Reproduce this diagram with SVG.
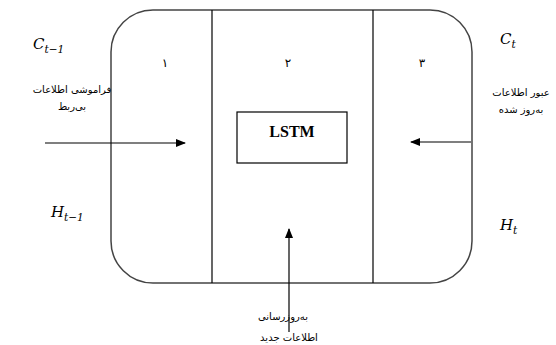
<svg xmlns="http://www.w3.org/2000/svg" width="556" height="345" viewBox="0 0 556 345">
<style>
.ln{stroke:#000;stroke-width:1.2;fill:none}
.fa{font-family:"DejaVu Sans",sans-serif;font-size:10px;fill:#000;text-anchor:middle}
.mt{font-family:"DejaVu Serif","Liberation Serif",serif;font-style:italic;font-size:15px;fill:#000}
.sub{font-size:10.5px}
.num{font-family:"DejaVu Sans",sans-serif;font-size:12px;fill:#000;text-anchor:middle}
</style>
<defs>
<marker id="ah" markerWidth="10" markerHeight="8" refX="9" refY="4" orient="auto" markerUnits="userSpaceOnUse">
<path d="M0,0 L10,4 L0,8 Z" fill="#000"/>
</marker>
</defs>
<rect width="556" height="345" fill="#fff"/>
<g id="cell">
<rect x="111" y="10" width="361" height="273" rx="42" ry="42" fill="none" stroke="#444" stroke-width="1.5"/>
<line class="ln" x1="212" y1="10" x2="212" y2="283"/>
<line class="ln" x1="373" y1="10" x2="373" y2="283"/>
<text class="num" x="165" y="67">۱</text>
<text class="num" x="288" y="67">۲</text>
<text class="num" x="422" y="67">۳</text>
</g>
<g id="lstm">
<rect x="237" y="112" width="110" height="51" fill="none" stroke="#000" stroke-width="1.2"/>
<text x="292" y="137" font-family="Liberation Serif,serif" font-weight="bold" font-size="16" text-anchor="middle">LSTM</text>
</g>
<g id="labels">
<text class="mt" x="33" y="49">C<tspan class="sub" dy="4">t−1</tspan></text>
<text class="mt" x="500" y="44">C<tspan class="sub" dy="4">t</tspan></text>
<text class="mt" x="51" y="217">H<tspan class="sub" dy="4">t−1</tspan></text>
<text class="mt" x="500" y="230">H<tspan class="sub" dy="4">t</tspan></text>
<text class="fa" x="72" y="93">فراموشی اطلاعات</text>
<text class="fa" x="72" y="110">بی‌ربط</text>
<text class="fa" x="521" y="96">عبور اطلاعات</text>
<text class="fa" x="521" y="113">به‌روز شده</text>
<text class="fa" x="283" y="320">به‌روزرسانی</text>
<text class="fa" x="289" y="341">اطلاعات جدید</text>
</g>
<g id="connectors">
<line class="ln" x1="45" y1="143" x2="185" y2="143" marker-end="url(#ah)" stroke="#333"/>
<line class="ln" x1="471" y1="142" x2="411" y2="142" marker-end="url(#ah)" stroke="#333"/>
<line class="ln" x1="289" y1="332" x2="289" y2="229" marker-end="url(#ah)"/>
</g>
</svg>
